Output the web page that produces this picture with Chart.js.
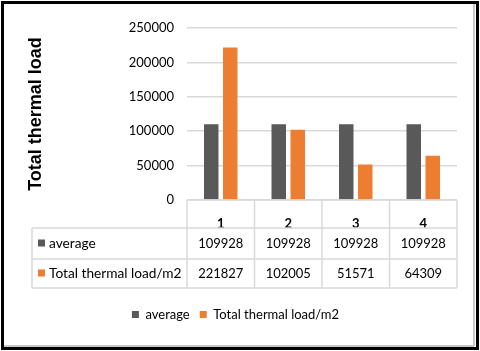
<!DOCTYPE html>
<html>
<head>
<meta charset="utf-8">
<script src="https://cdn.jsdelivr.net/npm/chart.js@4.4.0/dist/chart.umd.min.js"></script>
<style>
  html, body { margin: 0; padding: 0; background: #fff; }
  #wrap { width: 480px; height: 351px; }
</style>
</head>
<body>
<div id="wrap"><canvas id="chart" width="480" height="351"></canvas></div>
<script>
// DATA
const categories = ["1", "2", "3", "4"];
const seriesNames = ["average", "Total thermal load/m2"];
const averageValues = [109928, 109928, 109928, 109928];
const loadValues = [221827, 102005, 51571, 64309];
const yTitle = "Total thermal load";

const GRAY = "#595959";
const ORANGE = "#ED7D31";
const LINE = "#d9d9d9";
const FONT = "Lato";

// white background + black frame with a little shadow line
const frame = {
	id: "frame",
	beforeDraw(chart) {
		const ctx = chart.ctx;
		ctx.save();
		ctx.fillStyle = "#fff";
		ctx.fillRect(0, 0, chart.width, chart.height);
		ctx.restore();
	},
	afterDraw(chart) {
		const ctx = chart.ctx;
		ctx.save();
		ctx.strokeStyle = "#c8c8c8";
		ctx.lineWidth = 2;
		ctx.beginPath();
		ctx.moveTo(474, 4); ctx.lineTo(474, 346);
		ctx.moveTo(4, 346); ctx.lineTo(474, 346);
		ctx.stroke();
		ctx.strokeStyle = "#000";
		ctx.lineWidth = 3;
		ctx.strokeRect(2.5, 2.5, 475, 346);
		ctx.restore();
	}
};

// data table under the plot: header row holds the x ticks, then one row per series
const dataTable = {
	id: "dataTable",
	afterDraw(chart) {
		const ctx = chart.ctx;
		const area = chart.chartArea;
		const xScale = chart.scales.x;
		const top = area.bottom;
		const rowTops = [top, top + 28, top + 59, top + 88];
		const tableLeft = 32;
		const colW = (area.right - area.left) / categories.length;

		ctx.save();
		ctx.strokeStyle = LINE;
		ctx.lineWidth = 1.5;
		ctx.beginPath();
		ctx.moveTo(area.left, rowTops[0]); ctx.lineTo(area.right, rowTops[0]);
		for (let r = 1; r < rowTops.length; r++) {
			ctx.moveTo(tableLeft, rowTops[r]);
			ctx.lineTo(area.right, rowTops[r]);
		}
		for (let c = 0; c <= categories.length; c++) {
			const cx = area.left + c * colW;
			ctx.moveTo(cx, rowTops[0]);
			ctx.lineTo(cx, rowTops[3]);
		}
		ctx.moveTo(tableLeft, rowTops[1]); ctx.lineTo(tableLeft, rowTops[3]);
		ctx.stroke();

		const rows = [averageValues, loadValues];
		const colors = [GRAY, ORANGE];
		ctx.textBaseline = "middle";
		rows.forEach((vals, r) => {
			const cy = (rowTops[r + 1] + rowTops[r + 2]) / 2;
			ctx.fillStyle = colors[r];
			ctx.fillRect(tableLeft + 6, cy - 4, 7, 7);
			ctx.fillStyle = "#000";
			ctx.textAlign = "left";
			ctx.font = "13.7px " + FONT;
			ctx.fillText(seriesNames[r], tableLeft + 17, cy);
			ctx.textAlign = "center";
			ctx.font = "13px " + FONT;
			vals.forEach((v, i) => ctx.fillText(String(v), xScale.getPixelForValue(i), cy));
		});
		ctx.restore();
	}
};

new Chart(document.getElementById("chart"), {
	type: "bar",
	data: {
		labels: categories,
		datasets: [
			{label: seriesNames[0], data: averageValues, backgroundColor: GRAY},
			{label: seriesNames[1], data: loadValues, backgroundColor: ORANGE}
		]
	},
	options: {
		responsive: false,
		animation: false,
		categoryPercentage: 0.563,
		barPercentage: 0.763,
		layout: {padding: {left: 14, right: 23, top: 28, bottom: 20}},
		plugins: {
			legend: {
				position: "bottom",
				labels: {boxWidth: 7, boxHeight: 7, padding: 10, color: "#000", font: {family: FONT, size: 13}}
			},
			tooltip: {enabled: false}
		},
		scales: {
			x: {
				grid: {display: false},
				border: {display: false},
				ticks: {color: "#000", padding: 8, font: {family: FONT, size: 13, weight: "bold"}},
				afterFit(scale) { scale.height = 98; }
			},
			y: {
				min: 0,
				max: 250000,
				ticks: {stepSize: 50000, padding: 13, color: "#000", font: {family: FONT, size: 13}, callback: v => String(v)},
				grid: {color: LINE, lineWidth: 1.5, drawTicks: false},
				border: {display: false},
				title: {
					display: true,
					text: yTitle,
					color: "#000",
					padding: {top: 11, bottom: 0},
					font: {family: "Liberation Sans", size: 18, weight: "bold"}
				},
				afterFit(scale) { scale.width = 187 - 14; }
			}
		}
	},
	plugins: [frame, dataTable]
});
</script>
</body>
</html>
